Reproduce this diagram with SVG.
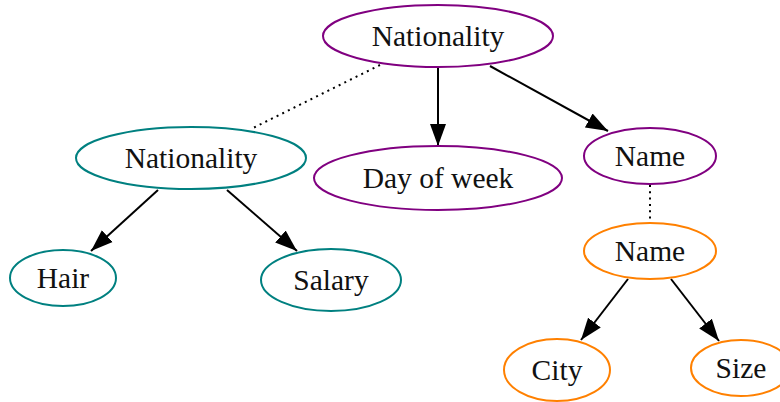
<svg xmlns="http://www.w3.org/2000/svg" width="780" height="402" viewBox="0 0 780 402">
<style>
.n ellipse{fill:#fff;stroke-width:2}
.p ellipse{stroke:#800080}
.t ellipse{stroke:#008080}
.o ellipse{stroke:#ff8000}
text{font-family:"Liberation Serif","Times New Roman",serif;font-size:29.5px;fill:#111;text-anchor:middle}
.e line{stroke:#000;stroke-width:2;fill:none}
.e .a{marker-end:url(#ah)}
.e .d{stroke-dasharray:2 4.3;stroke-width:2}
</style>
<defs>
<marker id="ah" markerUnits="userSpaceOnUse" markerWidth="24" markerHeight="17" refX="22" refY="8.5" orient="auto" viewBox="0 0 24 17">
<path d="M0,0.5 L22,8.5 L0,16.5 z" fill="#000"/>
</marker>
</defs>
<rect width="780" height="402" fill="#fff"/>
<g class="e" id="edges">
<line class="d" x1="380" y1="65" x2="251" y2="129"/>
<line class="a" x1="438" y1="68" x2="438" y2="146"/>
<line class="a" x1="490" y1="66" x2="608" y2="131"/>
<line class="a" x1="158" y1="190" x2="91" y2="251"/>
<line class="a" x1="227" y1="190" x2="297" y2="251"/>
<line class="d" x1="650" y1="185" x2="650" y2="223"/>
<line class="a" x1="628" y1="279" x2="581" y2="340"/>
<line class="a" x1="671" y1="279" x2="719" y2="341"/>
</g>
<g id="nat_top" class="n p"><ellipse cx="438" cy="36" rx="115" ry="31"/><text x="438" y="46">Nationality</text></g>
<g id="nat_left" class="n t"><ellipse cx="191" cy="158" rx="115" ry="31"/><text x="191" y="168">Nationality</text></g>
<g id="day" class="n p"><ellipse cx="438" cy="178" rx="124" ry="32"/><text x="438" y="188">Day of week</text></g>
<g id="name_p" class="n p"><ellipse cx="650" cy="156" rx="66" ry="28"/><text x="650" y="166">Name</text></g>
<g id="name_o" class="n o"><ellipse cx="650" cy="251" rx="66" ry="28"/><text x="650" y="261">Name</text></g>
<g id="hair" class="n t"><ellipse cx="63" cy="278" rx="53" ry="28"/><text x="63" y="288">Hair</text></g>
<g id="salary" class="n t"><ellipse cx="331" cy="280" rx="70" ry="31"/><text x="331" y="290">Salary</text></g>
<g id="city" class="n o"><ellipse cx="557" cy="370" rx="53" ry="31"/><text x="557" y="380">City</text></g>
<g id="size" class="n o"><ellipse cx="741" cy="368" rx="50" ry="28"/><text x="741" y="378">Size</text></g>
</svg>
